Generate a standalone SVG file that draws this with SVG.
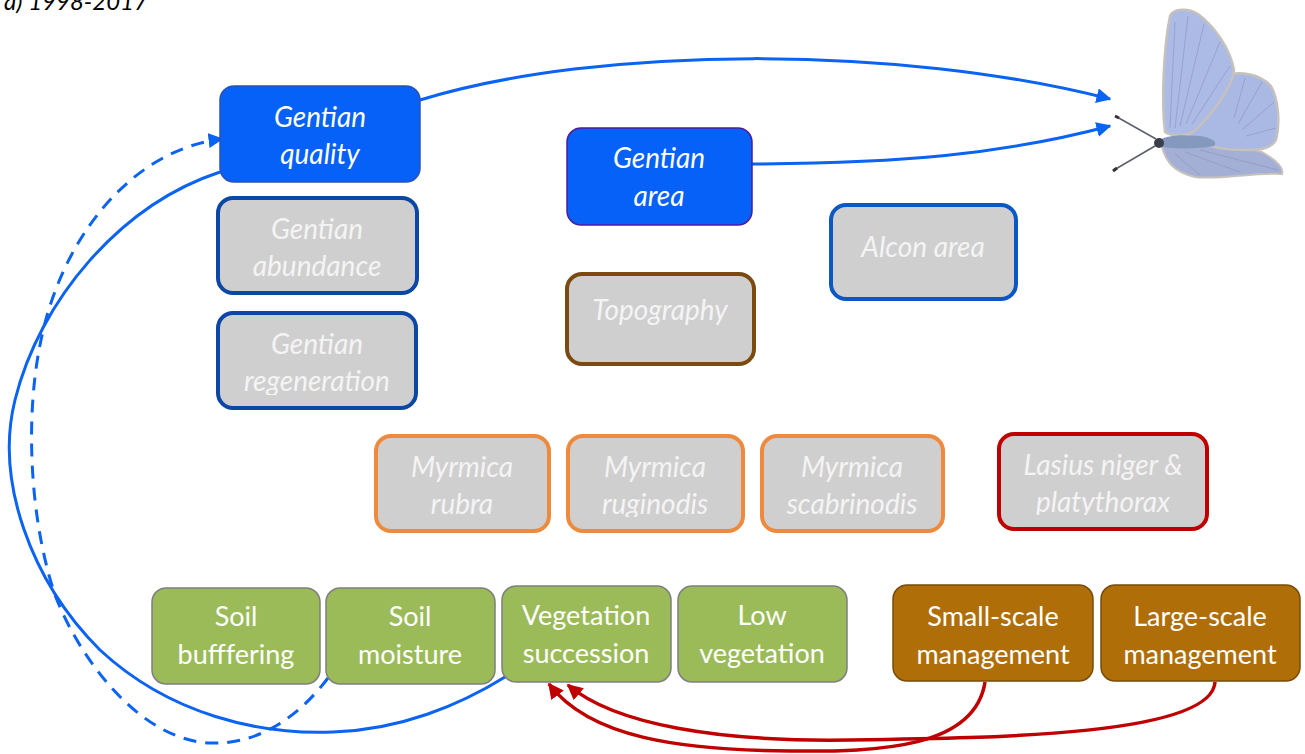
<svg xmlns="http://www.w3.org/2000/svg" width="1305" height="754" viewBox="0 0 1305 754">
<style>
text{font-family:Lato,"Open Sans","Liberation Sans",sans-serif;text-anchor:middle}
.it{font-style:italic;font-size:28px}
.blue rect{fill:#0561F8;stroke-width:1.5}
.grey rect{fill:#D0CFCF;stroke-width:4}
.grey text{fill:#F4F4F4}
.blue text{fill:#FFFFFF}
.green rect{fill:#9BBB59;stroke:#7F7F7F;stroke-width:1.5}
.brown rect{fill:#AF6E08;stroke:#7A4C06;stroke-width:1.5}
.green text,.brown text{fill:#FFFFFF;font-size:27px}
.bl{fill:none;stroke:#0A63F2;stroke-width:3}
.rd{fill:none;stroke:#C00000;stroke-width:3.5}
</style>
<defs>
<marker id="ab" viewBox="0 0 10 10" refX="9" refY="5" markerWidth="5" markerHeight="5" markerUnits="strokeWidth" orient="auto"><path d="M0,0 L10,5 L0,10 z" fill="#0A63F2"/></marker>
<marker id="ar" viewBox="0 0 10 10" refX="9" refY="5" markerWidth="4.5" markerHeight="4.5" markerUnits="strokeWidth" orient="auto"><path d="M0,0 L10,5 L0,10 z" fill="#C00000"/></marker>
<clipPath id="c1"><rect x="217" y="300" width="200" height="95"/></clipPath>
<clipPath id="c2"><rect x="567" y="430" width="177" height="87"/></clipPath>
<clipPath id="c3"><rect x="998" y="430" width="210" height="85"/></clipPath>
</defs>
<rect width="1305" height="754" fill="#FFFFFF"/>
<text x="76" y="10" style="font-style:italic;font-size:24px;fill:#000">a) 1998-2017</text>

<g id="connectors">
<path class="bl" d="M420,100 C600,45 900,45 1110,99" marker-end="url(#ab)"/>
<path class="bl" d="M752,164 C900,163 1000,155 1110,126" marker-end="url(#ab)"/>
<path class="bl" d="M220,172 C120,205 40,300 15,400 C-5,480 30,580 100,650 C170,715 260,735 333,732 C400,730 460,705 505,677"/>
<path class="bl" stroke-dasharray="13,9" d="M328,678 C300,715 260,745 210,743 C140,740 80,660 55,595 C30,520 25,420 40,345 C60,240 130,150 222,139" marker-end="url(#ab)"/>
<path class="rd" d="M985,682 C975,748 880,752 790,751 C680,750 590,738 549,684" marker-end="url(#ar)"/>
<path class="rd" d="M1215,682 C1212,735 1000,738 850,740 C720,742 615,725 568,685" marker-end="url(#ar)"/>
</g>

<g id="gentian-quality" class="blue"><rect x="220" y="86" width="200" height="96" rx="14" stroke="#2A52B8"/><text class="it" x="320" y="127">Gentian</text><text class="it" x="320" y="164">quality</text></g>
<g id="gentian-area" class="blue"><rect x="567" y="128" width="185" height="97" rx="14" stroke="#4A1E9E"/><text class="it" x="659" y="168">Gentian</text><text class="it" x="659" y="206">area</text></g>

<g id="gentian-abundance" class="grey"><rect x="218" y="198" width="199" height="95" rx="15" stroke="#0D47A6"/><text class="it" x="317" y="239">Gentian</text><text class="it" x="317" y="276">abundance</text></g>
<g id="gentian-regeneration" class="grey"><rect x="218" y="313" width="198" height="95" rx="15" stroke="#0D47A6"/><g clip-path="url(#c1)"><text class="it" x="317" y="354">Gentian</text><text class="it" x="317" y="391">regeneration</text></g></g>
<g id="alcon-area" class="grey"><rect x="831" y="205" width="185" height="94" rx="15" stroke="#0B57C6"/><text class="it" x="923" y="257">Alcon area</text></g>
<g id="topography" class="grey"><rect x="567" y="274" width="187" height="90" rx="15" stroke="#7B4A10"/><text class="it" x="660" y="320">Topography</text></g>

<g id="myrmica-rubra" class="grey"><rect x="376" y="436" width="173" height="95" rx="15" stroke="#EE8A3E"/><text class="it" x="462" y="477">Myrmica</text><text class="it" x="462" y="514">rubra</text></g>
<g id="myrmica-ruginodis" class="grey"><rect x="568" y="436" width="175" height="95" rx="15" stroke="#EE8A3E"/><g clip-path="url(#c2)"><text class="it" x="655" y="477">Myrmica</text><text class="it" x="655" y="514">ruginodis</text></g></g>
<g id="myrmica-scabrinodis" class="grey"><rect x="762" y="436" width="181" height="95" rx="15" stroke="#EE8A3E"/><text class="it" x="852" y="477">Myrmica</text><text class="it" x="852" y="514">scabrinodis</text></g>
<g id="lasius" class="grey"><rect x="999" y="434" width="208" height="95" rx="15" stroke="#C00000"/><g clip-path="url(#c3)"><text class="it" x="1103" y="475">Lasius niger &amp;</text><text class="it" x="1103" y="512">platythorax</text></g></g>

<g id="soil-buffering" class="green"><rect x="152" y="588" width="168" height="96" rx="14"/><text x="236" y="626">Soil</text><text x="236" y="664">bufffering</text></g>
<g id="soil-moisture" class="green"><rect x="326" y="588" width="169" height="96" rx="14"/><text x="410" y="626">Soil</text><text x="410" y="664">moisture</text></g>
<g id="vegetation-succession" class="green"><rect x="502" y="586" width="169" height="96" rx="14"/><text x="586" y="625">Vegetation</text><text x="586" y="663">succession</text></g>
<g id="low-vegetation" class="green"><rect x="678" y="586" width="169" height="96" rx="14"/><text x="762" y="625">Low</text><text x="762" y="663">vegetation</text></g>
<g id="small-scale" class="brown"><rect x="893" y="585" width="200" height="96" rx="14"/><text x="993" y="626">Small-scale</text><text x="993" y="664">management</text></g>
<g id="large-scale" class="brown"><rect x="1101" y="585" width="199" height="96" rx="14"/><text x="1200" y="626">Large-scale</text><text x="1200" y="664">management</text></g>

<g id="butterfly">
<path d="M1162,147 C1166,162 1174,172 1195,177 C1220,180 1255,172 1282,174 C1284,168 1276,160 1262,152 C1240,146 1200,144 1162,147 z" fill="#A3AFD4" stroke="#C6C1BC" stroke-width="2"/>
<path d="M1188,132 C1192,110 1205,85 1222,76 C1240,70 1260,74 1271,86 C1279,100 1280,125 1276,140 C1272,148 1262,150 1245,150 C1220,150 1198,146 1188,132 z" fill="#A9B9E4" stroke="#C6C1BC" stroke-width="2.5"/>
<path d="M1165,132 C1161,100 1164,45 1170,16 C1174,8 1188,8 1198,14 C1214,26 1230,48 1234,70 C1232,88 1215,110 1196,130 C1186,136 1172,137 1165,132 z" fill="#ABBBE6" stroke="#C6C1BC" stroke-width="2.5"/>
<g stroke="#8E9AC0" stroke-width="1" fill="none" opacity="0.7">
<path d="M1170,128 L1175,22 M1175,128 L1188,16 M1180,126 L1204,24 M1186,124 L1220,42 M1192,124 L1230,66"/>
<path d="M1234,118 L1245,78 M1238,124 L1262,82 M1242,130 L1274,102 M1246,136 L1276,128"/>
<path d="M1175,154 L1200,175 M1185,152 L1240,172 M1200,150 L1278,170"/>
</g>
<path d="M1157,142 C1162,136 1178,134 1200,136 C1212,138 1218,142 1214,146 C1200,149 1176,149 1160,147 z" fill="#8598BE"/>
<ellipse cx="1159" cy="143" rx="5" ry="5" fill="#3A3F4C"/>
<path d="M1156,139 L1117,117 M1155,146 L1114,170" stroke="#5A5F6A" stroke-width="1.5" fill="none"/>
<path d="M1119,118 l-4,-2 M1117,168 l-4,3" stroke="#333" stroke-width="3"/>
</g>
</svg>
